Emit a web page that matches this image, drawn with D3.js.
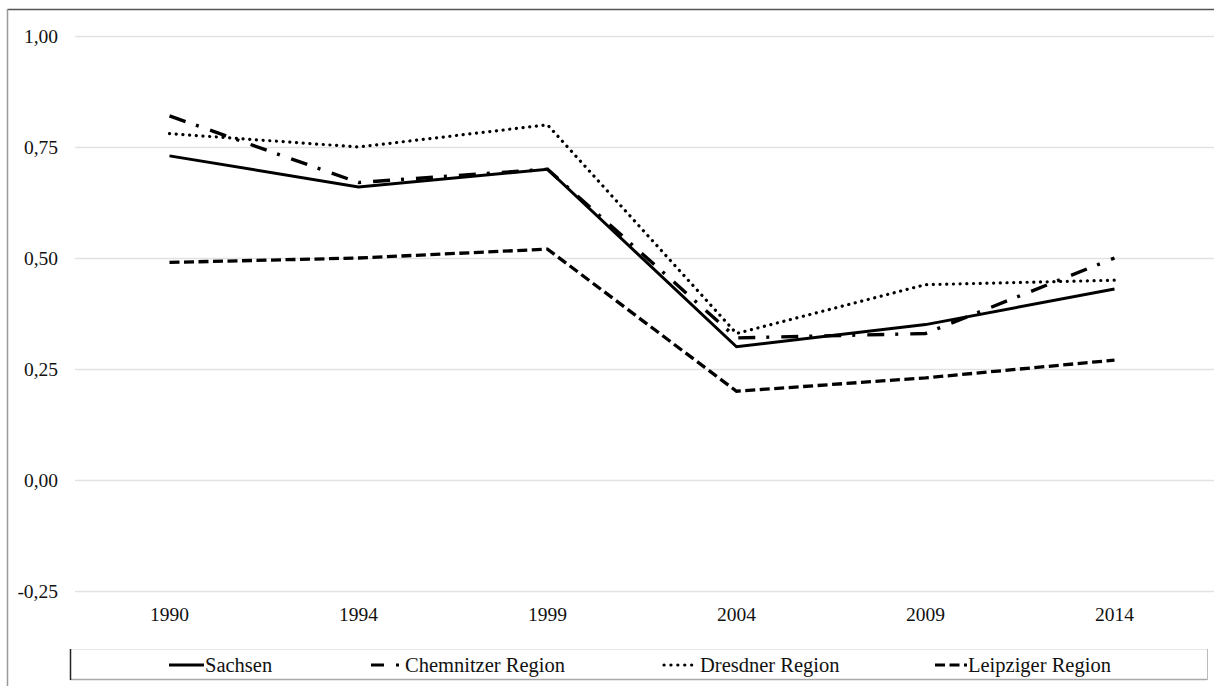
<!DOCTYPE html>
<html><head><meta charset="utf-8">
<script src="https://cdn.jsdelivr.net/npm/d3@7"></script>
<style>body{margin:0;background:#fff}svg{display:block}text{font-family:"Liberation Serif","Times New Roman",serif;fill:#111}</style>
</head><body><svg id="c" width="1214" height="686"></svg>
<script>
const years = ["1990","1994","1999","2004","2009","2014"];
const seriesNames = ["Sachsen","Chemnitzer Region","Dresdner Region","Leipziger Region"];
const sachsen = [0.73,0.66,0.70,0.30,0.35,0.43];
const chemnitz = [0.82,0.67,0.70,0.32,0.33,0.50];
const dresden = [0.78,0.75,0.80,0.33,0.44,0.45];
const leipzig = [0.49,0.50,0.52,0.20,0.23,0.27];
const yTicks = [-0.25,0,0.25,0.5,0.75,1.0];

const svg = d3.select("#c");
const W=1214,H=686;
svg.append("line").attr("x1",7.5).attr("x2",W).attr("y1",9.5).attr("y2",9.5).attr("stroke","#555").attr("stroke-width",1.5);
svg.append("line").attr("x1",7.5).attr("x2",7.5).attr("y1",9).attr("y2",H).attr("stroke","#999").attr("stroke-width",1.5);

const x = d3.scaleBand().domain(years).range([75,1209]);
const y = d3.scaleLinear().domain([-0.25,1.0]).range([591,36]);

const fmt = d => d3.format(".2f")(d).replace(".",",").replace("−","-");
const yAxis = svg.append("g").attr("transform","translate(75,0)")
  .call(d3.axisLeft(y).tickValues(yTicks).tickFormat(fmt).tickSize(-(W-75)).tickPadding(17));
yAxis.select(".domain").remove();
yAxis.selectAll(".tick line").attr("stroke","#e2e2e2").attr("stroke-width",1.3);
yAxis.selectAll(".tick text").attr("font-size",19.5).attr("fill","#111").style("font-family","'Liberation Serif',serif");

const xAxis = svg.append("g").attr("transform","translate(0,591)")
  .call(d3.axisBottom(x).tickSize(0).tickPadding(16));
xAxis.select(".domain").remove();
xAxis.selectAll(".tick text").attr("font-size",19.5).attr("fill","#111").style("font-family","'Liberation Serif',serif");

const styles = [
  {dash:null, w:3, cap:"butt"},
  {dash:"17,11,3,12", w:3.4, cap:"butt"},
  {dash:"0.1,6.6", w:3.2, cap:"round"},
  {dash:"10,4.5", w:3.3, cap:"butt"}
];
const data = [sachsen,chemnitz,dresden,leipzig];
const line = d3.line().x((d,i)=>x(years[i])+x.bandwidth()/2).y(d=>y(d));
data.forEach((s,k)=>{
  svg.append("path").datum(s).attr("d",line).attr("fill","none")
    .attr("stroke","#000").attr("stroke-width",styles[k].w)
    .attr("stroke-dasharray",styles[k].dash).attr("stroke-linecap",styles[k].cap)
    .attr("stroke-linejoin","miter");
});

const lg = svg.append("g");
lg.append("line").attr("x1",70).attr("x2",1207).attr("y1",649.5).attr("y2",649.5).attr("stroke","#e8e8e8");
lg.append("line").attr("x1",70).attr("x2",1207).attr("y1",679.5).attr("y2",679.5).attr("stroke","#aaa").attr("stroke-width",1.5);
lg.append("line").attr("x1",70.5).attr("x2",70.5).attr("y1",649).attr("y2",680).attr("stroke","#222").attr("stroke-width",1.5);
lg.append("line").attr("x1",1207.5).attr("x2",1207.5).attr("y1",649).attr("y2",680).attr("stroke","#bbb");
const legX = [169,371,664,935];
const legDash = [null,"13,12,3,50","0.1,6.8","10,4.5"];
const legLen = [35,28,34,32];
const legText = [205,405,700,968];
seriesNames.forEach((n,k)=>{
  lg.append("line").attr("x1",legX[k]).attr("x2",legX[k]+legLen[k]).attr("y1",665).attr("y2",665)
    .attr("stroke","#000").attr("stroke-width",3.2).attr("stroke-dasharray",legDash[k])
    .attr("stroke-linecap",styles[k].cap);
  lg.append("text").attr("x",legText[k]).attr("y",671.5).attr("font-size",20.5).text(n);
});
</script></body></html>
